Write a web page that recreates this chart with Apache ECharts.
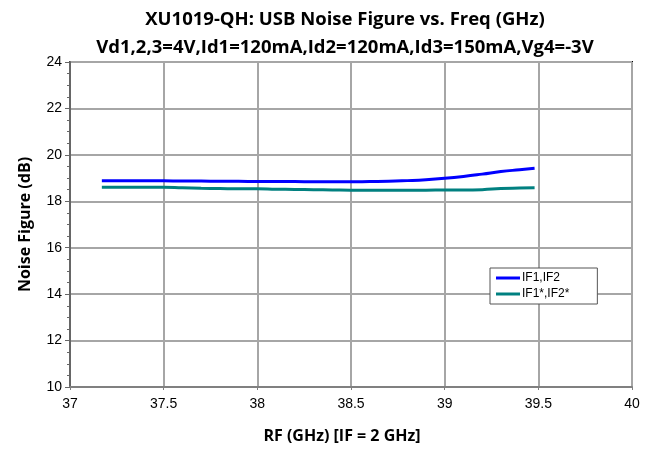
<!DOCTYPE html>
<html>
<head>
<meta charset="utf-8">
<script src="https://cdn.jsdelivr.net/npm/echarts@6/dist/echarts.min.js"></script>
<style>
  html, body { margin: 0; padding: 0; background: #fff; }
  #chart { width: 651px; height: 450px; }
</style>
</head>
<body>
<div id="chart"></div>
<script>
// RF frequency (GHz)
const freq = [37.17, 37.3, 37.4, 37.5, 37.6, 37.7, 37.8, 37.9, 38.0, 38.1, 38.2, 38.3,
  38.4, 38.5, 38.6, 38.7, 38.8, 38.9, 39.0, 39.1, 39.2, 39.3, 39.4, 39.48];
// noise figure (dB)
const nfIF = [18.89, 18.89, 18.88, 18.88, 18.87, 18.87, 18.86, 18.86, 18.85, 18.85, 18.85, 18.84,
  18.84, 18.84, 18.85, 18.86, 18.89, 18.93, 18.99, 19.07, 19.17, 19.28, 19.36, 19.42];
const nfIFstar = [18.61, 18.61, 18.6, 18.6, 18.58, 18.56, 18.55, 18.54, 18.54, 18.52, 18.51, 18.5,
  18.49, 18.48, 18.48, 18.48, 18.48, 18.48, 18.49, 18.49, 18.5, 18.55, 18.57, 18.58];
const seriesNames = ['IF1,IF2', 'IF1*,IF2*'];

const toPairs = (ys) => freq.map((f, i) => [f, ys[i]]);

const boldFont = 'Open Sans';
const chart = echarts.init(document.getElementById('chart'), null, { renderer: 'canvas' });

chart.setOption({
  animation: false,
  backgroundColor: '#fff',
  title: {
    text: 'XU1019-QH: USB Noise Figure vs. Freq (GHz)\nVd1,2,3=4V,Id1=120mA,Id2=120mA,Id3=150mA,Vg4=-3V',
    left: 340,
    textAlign: 'center',
    top: 1,
    textStyle: {
      fontFamily: boldFont,
      fontWeight: 'bold',
      fontSize: 18.5,
      lineHeight: 28,
      color: '#000'
    }
  },
  grid: {
    left: 70, right: 19, top: 62, bottom: 63,
    show: true,
    borderColor: '#000',
    borderWidth: 2
  },
  legend: {
    left: 490,
    top: 268,
    orient: 'vertical',
    data: seriesNames,
    backgroundColor: '#fff',
    borderColor: '#555',
    borderWidth: 1,
    borderRadius: 0,
    padding: [4, 28, 4, 6],
    itemGap: 4,
    itemWidth: 24,
    itemHeight: 3,
    icon: 'rect',
    textStyle: { fontFamily: 'Liberation Sans', fontSize: 12, color: '#000', padding: [0, 0, 0, -3] }
  },
  xAxis: {
    type: 'value',
    min: 37, max: 40, interval: 0.5,
    name: 'RF (GHz) [IF = 2 GHz]',
    nameLocation: 'middle',
    nameGap: 41,
    nameTextStyle: {
      fontFamily: boldFont, fontWeight: 'bold', fontSize: 16, color: '#000',
      padding: [0, 18, 0, 0]
    },
    axisLine: { lineStyle: { color: '#808080', width: 2 } },
    axisTick: { show: true, length: 3, lineStyle: { color: '#808080' } },
    axisLabel: { fontFamily: 'Liberation Sans', fontSize: 14, color: '#000', margin: 10 },
    splitLine: { show: true, lineStyle: { color: '#a6a6a6', width: 2 } }
  },
  yAxis: {
    type: 'value',
    min: 10, max: 24, interval: 2,
    name: 'Noise Figure (dB)',
    nameLocation: 'middle',
    nameGap: 37,
    nameTextStyle: { fontFamily: boldFont, fontWeight: 'bold', fontSize: 16, color: '#000' },
    axisLine: { show: true, lineStyle: { color: '#666', width: 2 } },
    axisTick: { show: true, length: 5, lineStyle: { color: '#666' } },
    minorTick: { show: true, splitNumber: 4, length: 3, lineStyle: { color: '#666' } },
    axisLabel: { fontFamily: 'Liberation Sans', fontSize: 14, color: '#000', margin: 8 },
    splitLine: { show: true, lineStyle: { color: '#a6a6a6', width: 2 } }
  },
  series: [
    {
      name: seriesNames[0],
      type: 'line',
      data: toPairs(nfIF),
      showSymbol: false,
      smooth: true,
      color: '#0000ff',
      lineStyle: { width: 3, color: '#0000ff' }
    },
    {
      name: seriesNames[1],
      type: 'line',
      data: toPairs(nfIFstar),
      showSymbol: false,
      smooth: true,
      color: '#008080',
      lineStyle: { width: 3, color: '#008080' }
    }
  ]
});
</script>
</body>
</html>
